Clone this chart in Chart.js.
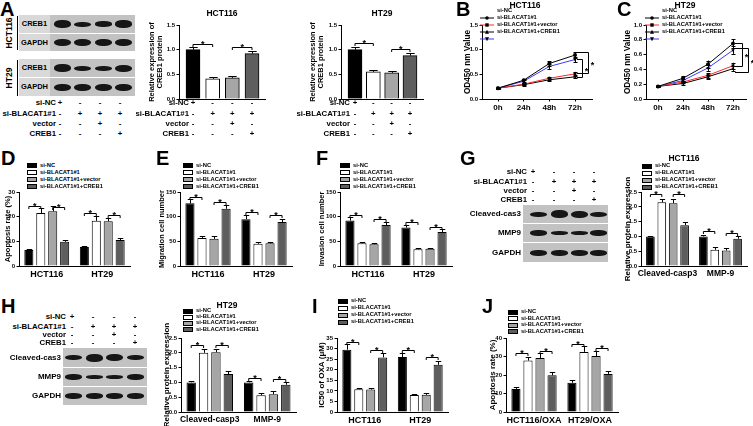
<!DOCTYPE html>
<html>
<head>
<meta charset="utf-8">
<script src="https://cdn.jsdelivr.net/npm/chart.js@4.4.1/dist/chart.umd.min.js"></script>
<style>
html, body { margin: 0; padding: 0; background: #fff; }
#fig { position: relative; width: 753px; height: 426px; overflow: hidden; background: #fff; }
.lbl { position: absolute; white-space: nowrap; line-height: 1; font-family: "Liberation Sans", Arial, sans-serif; font-weight: bold; color: #000; }
canvas { position: absolute; }
.blot { position: absolute; background: #c2c2c2; overflow: hidden; }
.band { position: absolute; background: #161616; border-radius: 45%; filter: blur(0.7px); }
.box { position: absolute; border: 1px solid #000; box-sizing: border-box; }
</style>
</head>
<body>
<div id="fig"></div>
<script>
// ================== Dados ==================

const groups = ["si-NC", "si-BLACAT1#1", "si-BLACAT1#1+vector", "si-BLACAT1#1+CREB1"];
const tableRows = ["si-NC", "si-BLACAT1#1", "vector", "CREB1"];
const tableSigns = [
  ["+", "-", "-", "-"],
  ["-", "+", "+", "+"],
  ["-", "-", "+", "-"],
  ["-", "-", "-", "+"],
];

// A - CREB1 protein
const aLanes = [1, 2, 3, 4];
const aTicks = [0, 0.5, 1.0, 1.5];
const aHctCreb = [1.00, 0.41, 0.43, 0.92];
const aHctCrebErr = [0.06, 0.03, 0.03, 0.06];
const aHctSig = [[0, 1, 1.12], [2, 3, 1.06]];
const aHtCreb = [1.00, 0.55, 0.53, 0.88];
const aHtCrebErr = [0.06, 0.04, 0.04, 0.05];
const aHtSig = [[0, 1, 1.13], [2, 3, 1.01]];

// blots (band thickness per lane)
const blotHctCreb1 = [8, 5, 5.5, 7.5];
const blotHctGapdh = [7, 7, 7, 7];
const blotHtCreb1 = [8, 5, 5, 7];
const blotHtGapdh = [7, 7, 7, 7];
const blotGCas3 = [5, 8, 7, 5];
const blotGMmp9 = [6, 4, 4, 6];
const blotGGapdh = [6, 6, 6, 6];
const blotHCas3 = [5, 8, 7, 5];
const blotHMmp9 = [6, 4, 4, 6];
const blotHGapdh = [6, 6, 6, 6];

// B / C - OD450
const timeIdx = [0, 1, 2, 3];
const timeLabels = ["0h", "24h", "48h", "72h"];
const bTicks = [0, 0.5, 1.0, 1.5];
const bSeries = [
  [0.22, 0.38, 0.72, 0.89],
  [0.22, 0.30, 0.42, 0.51],
  [0.22, 0.29, 0.39, 0.45],
  [0.22, 0.36, 0.66, 0.80],
];
const bErr = [
  [0.01, 0.03, 0.05, 0.06],
  [0.01, 0.02, 0.03, 0.04],
  [0.01, 0.02, 0.03, 0.03],
  [0.01, 0.03, 0.05, 0.05],
];
const bSig = [[3.27, 0.82, 0.45], [3.5, 0.95, 0.53]];
const cTicks = [0, 0.2, 0.4, 0.6, 0.8, 1.0];
const cSeries = [
  [0.17, 0.28, 0.47, 0.75],
  [0.17, 0.23, 0.32, 0.45],
  [0.17, 0.21, 0.30, 0.41],
  [0.17, 0.25, 0.42, 0.66],
];
const cErr = [
  [0.01, 0.03, 0.05, 0.06],
  [0.01, 0.02, 0.03, 0.04],
  [0.01, 0.02, 0.03, 0.03],
  [0.01, 0.02, 0.04, 0.05],
];
const cSig = [[3.36, 0.76, 0.45], [3.6, 0.69, 0.37]];

// D - apoptosis
const cellCats = ["HCT116", "HT29"];
const dTicks = [0, 10, 20, 30];
const dVals = [[6.5, 7.7], [21.5, 18.3], [22.2, 18.1], [9.8, 10.5]];
const dErr = [[0.5, 0.6], [2.0, 1.8], [2.0, 1.3], [0.8, 0.8]];
const dSig = [[0, 0, 1, 24.5], [0, 2, 3, 24.0], [1, 0, 1, 21.5], [1, 2, 3, 20.8]];

// E - migration
const eTicks = [0, 50, 100, 150];
const eVals = [[127, 95], [57, 45], [55, 46], [116, 89]];
const eErr = [[9, 8], [4, 3], [5, 3], [8, 7]];
const eSig = [[0, 0, 1, 140], [0, 2, 3, 130], [1, 0, 1, 110], [1, 2, 3, 103]];

// F - invasion
const fTicks = [0, 50, 100, 150];
const fVals = [[92, 78], [46, 34], [44, 35], [83, 69]];
const fErr = [[8, 6], [3, 2], [3, 2], [7, 5]];
const fSig = [[0, 0, 1, 104], [0, 2, 3, 96], [1, 0, 1, 90], [1, 2, 3, 80]];

// G / H - proteins
const protCats = ["Cleaved-casp3", "MMP-9"];
const protTicks = [0, 0.5, 1.0, 1.5, 2.0, 2.5];
const gVals = [[1.0, 1.0], [2.15, 0.55], [2.12, 0.52], [1.38, 0.92]];
const gErr = [[0.02, 0.04], [0.12, 0.08], [0.15, 0.08], [0.12, 0.08]];
const gSig = [[0, 0, 1, 2.42], [0, 2, 3, 2.42], [1, 0, 1, 1.18], [1, 2, 3, 1.12]];
const hVals = [[1.0, 1.0], [2.0, 0.57], [2.02, 0.6], [1.28, 0.92]];
const hErr = [[0.04, 0.05], [0.12, 0.08], [0.1, 0.1], [0.12, 0.08]];
const hSig = [[0, 0, 1, 2.28], [0, 2, 3, 2.28], [1, 0, 1, 1.15], [1, 2, 3, 1.12]];

// I - IC50
const iTicks = [0, 5, 10, 15, 20, 25, 30, 35];
const iVals = [[29.5, 26.0], [10.8, 8.0], [10.6, 8.1], [25.8, 22.3]];
const iErr = [[2.5, 2.0], [0.7, 0.6], [0.8, 0.7], [2.2, 2.0]];
const iSig = [[0, 0, 1, 33], [0, 2, 3, 29.5], [1, 0, 1, 29.5], [1, 2, 3, 26]];

// J - apoptosis OXA
const oxaCats = ["HCT116/OXA", "HT29/OXA"];
const jTicks = [0, 10, 20, 30, 40];
const jVals = [[12.5, 15.8], [27.8, 32.5], [29.2, 30.3], [19.8, 20.6]];
const jErr = [[1.0, 1.3], [2.2, 3.0], [2.5, 2.8], [1.8, 1.6]];
const jSig = [[0, 0, 1, 32], [0, 2, 3, 33], [1, 0, 1, 37], [1, 2, 3, 34.5]];

// ================== Estilos ==================

const BAR_FILL = ["#000000", "#ffffff", "#a6a6a6", "#5e5e5e"];
const LINE_COLORS = ["#000000", "#ff2a2a", "#000000", "#3a3aff"];
const POINT_STYLES = ["circle", "rect", "triangle", "triangle"];

Chart.defaults.font.family = '"Liberation Sans", Arial, sans-serif';
Chart.defaults.font.weight = "bold";
Chart.defaults.color = "#000";

const fig = document.getElementById("fig");

// ================== Helpers ==================

function addText(x, y, str, opt = {}) {
  const d = document.createElement("div");
  d.className = "lbl";
  d.textContent = str;
  d.style.left = x + "px";
  d.style.top = y + "px";
  d.style.fontSize = (opt.size || 8) + "px";
  if (opt.corner) {
    fig.appendChild(d);
    return d;
  }
  const ax = { left: "0", center: "-50%", right: "-100%" }[opt.align || "left"];
  let tf = `translate(${ax}, -50%)`;
  if (opt.rotate) tf = "translate(-50%, -50%) rotate(-90deg)";
  d.style.transform = tf;
  fig.appendChild(d);
  return d;
}

function addDiv(cls, x, y, w, h, bg) {
  const d = document.createElement("div");
  d.className = cls;
  d.style.position = "absolute";
  d.style.left = x + "px";
  d.style.top = y + "px";
  d.style.width = w + "px";
  d.style.height = h + "px";
  if (bg) d.style.background = bg;
  fig.appendChild(d);
  return d;
}

function place(x, y, w, h) {
  const c = document.createElement("canvas");
  c.width = w;
  c.height = h;
  c.style.left = x + "px";
  c.style.top = y + "px";
  c.style.width = w + "px";
  c.style.height = h + "px";
  fig.appendChild(c);
  return c;
}

function blotRow(x, y, w, h, lanes, thick, bandW) {
  const row = addDiv("blot", x, y, w, h);
  lanes.forEach((lx, i) => {
    const b = document.createElement("div");
    b.className = "band";
    b.style.left = (lx - x - bandW / 2) + "px";
    b.style.top = (h / 2 - thick[i] / 2) + "px";
    b.style.width = bandW + "px";
    b.style.height = thick[i] + "px";
    row.appendChild(b);
  });
}

function signTable(labelRight, rowsY, cols, size) {
  tableRows.forEach((r, k) => {
    addText(labelRight, rowsY[k], r, { align: "right", size });
    tableSigns[k].forEach((s, i) => addText(cols[i], rowsY[k], s, { align: "center", size }));
  });
}

function barLegend(x, y0, step) {
  groups.forEach((g, k) => {
    const y = y0 + k * step;
    addDiv("box", x, y - 2.5, 10, 5, BAR_FILL[k]);
    addText(x + 13, y, g, { size: 5.8 });
  });
}

function markerSvg(k) {
  const c = LINE_COLORS[k];
  let m;
  if (k === 0) m = '<circle cx="7" cy="3" r="1.8" fill="#000"/>';
  else if (k === 1) m = '<rect x="5.3" y="1.3" width="3.4" height="3.4" fill="#000"/>';
  else if (k === 2) m = '<polygon points="7,0.8 9,4.8 5,4.8" fill="#000"/>';
  else m = '<polygon points="7,5.2 9,1.2 5,1.2" fill="#000"/>';
  return `<svg width="14" height="6" xmlns="http://www.w3.org/2000/svg"><line x1="0" y1="3" x2="14" y2="3" stroke="${c}" stroke-width="1"/>${m}</svg>`;
}

function lineLegend(x, y0, step) {
  groups.forEach((g, k) => {
    const y = y0 + k * step;
    const d = addDiv("lbl", x, y - 3, 14, 6);
    d.innerHTML = markerSvg(k);
    addText(x + 17, y, g, { size: 5.8 });
  });
}

function crisp(v) { return Math.round(v) + 0.5; }
function seg(ctx, x1, y1, x2, y2) {
  ctx.beginPath();
  ctx.moveTo(x1, y1);
  ctx.lineTo(x2, y2);
  ctx.stroke();
}

// barras de erro e colchetes de significância
const extras = {
  id: "extras",
  afterDatasetsDraw(chart, args, opt) {
    const ctx = chart.ctx;
    const ys = chart.scales.y;
    ctx.save();
    ctx.strokeStyle = "#000";
    ctx.fillStyle = "#000";
    ctx.lineWidth = 1;
    (opt.errors || []).forEach((errs, d) => {
      const meta = chart.getDatasetMeta(d);
      meta.data.forEach((el, i) => {
        const raw = chart.data.datasets[d].data[i];
        const v = typeof raw === "object" ? raw.y : raw;
        const e = errs[i];
        const x = crisp(el.x);
        if (opt.kind === "line") {
          const y1 = ys.getPixelForValue(v + e), y2 = ys.getPixelForValue(v - e);
          seg(ctx, x, y1, x, y2);
          seg(ctx, x - 2, crisp(y1), x + 2, crisp(y1));
          seg(ctx, x - 2, crisp(y2), x + 2, crisp(y2));
        } else {
          const yt = crisp(ys.getPixelForValue(v + e));
          seg(ctx, x, el.y, x, yt);
          const hw = Math.max(2, el.width * 0.3);
          seg(ctx, x - hw, yt, x + hw, yt);
        }
      });
    });
    ctx.font = 'bold 9px "Liberation Sans", Arial, sans-serif';
    ctx.textAlign = "center";
    ctx.textBaseline = "alphabetic";
    (opt.sig || []).forEach((s) => {
      if (opt.kind === "line") {
        // [x, yTop, yBottom] colchete vertical
        const xs = chart.scales.x;
        const x = crisp(xs.getPixelForValue(s[0]));
        const x0 = xs.getPixelForValue(3) + 2;
        const y1 = crisp(ys.getPixelForValue(s[1])), y2 = crisp(ys.getPixelForValue(s[2]));
        seg(ctx, x0, y1, x, y1);
        seg(ctx, x, y1, x, y2);
        seg(ctx, x, y2, x0, y2);
        ctx.fillText("*", x + 4, (y1 + y2) / 2 + 5);
      } else {
        let xa, xb, h;
        if (s.length === 3) {
          xa = chart.getDatasetMeta(0).data[s[0]].x;
          xb = chart.getDatasetMeta(0).data[s[1]].x;
          h = s[2];
        } else {
          xa = chart.getDatasetMeta(s[1]).data[s[0]].x;
          xb = chart.getDatasetMeta(s[2]).data[s[0]].x;
          h = s[3];
        }
        const y = crisp(ys.getPixelForValue(h));
        seg(ctx, xa, y + 2.5, xa, y);
        seg(ctx, xa, y, xb, y);
        seg(ctx, xb, y, xb, y + 2.5);
        ctx.fillText("*", (xa + xb) / 2, y + 2.5);
      }
    });
    ctx.restore();
  },
};

function frame(o, xH, padR, padT) {
  const lh = o.yTitleSize * 1.1;
  const left = Math.round(o.titleX - lh / 2);
  const top = Math.round(o.top - padT);
  const w = Math.round(o.right - left + padR);
  const h = Math.round(o.bottom - top + xH);
  return { left, top, w, h, yW: o.axisX - left };
}

function yScale(o, f) {
  return {
    type: "linear",
    min: o.yTicks[0],
    max: o.yTicks[o.yTicks.length - 1],
    afterBuildTicks: (s) => { s.ticks = o.yTicks.map((v) => ({ value: v })); },
    afterFit: (s) => { s.width = f.yW; },
    ticks: {
      font: { size: 6, weight: "bold" },
      color: "#000",
      padding: 1.5,
      callback: (v) => (o.yFmt ? Number(v).toFixed(o.yFmt) : String(v)),
    },
    grid: { drawOnChartArea: false, drawTicks: true, tickLength: 2.5, color: "#000", lineWidth: 1 },
    border: { display: true, color: "#000", width: 1 },
    title: {
      display: true,
      text: o.yTitle,
      color: "#000",
      padding: 0,
      font: { size: o.yTitleSize, weight: "bold", lineHeight: 1.1 },
    },
  };
}

function baseOptions(padR, padT, pluginOpts, scales) {
  return {
    responsive: false,
    animation: false,
    devicePixelRatio: 1,
    layout: { padding: { top: padT, right: padR, left: 0, bottom: 0 } },
    plugins: { legend: { display: false }, tooltip: { enabled: false }, extras: pluginOpts },
    scales,
  };
}

// barras simples (painel A)
function singleBars(o) {
  const xH = 6, padR = 2, padT = 8;
  const f = frame(o, xH, padR, padT);
  const c = place(f.left, f.top, f.w, f.h);
  const xMin = 1 - (o.firstCenter - o.axisX) / o.spacing;
  const xMax = xMin + (o.right - o.axisX) / o.spacing;
  new Chart(c, {
    type: "bar",
    data: {
      datasets: [{
        data: o.values.map((v, i) => ({ x: aLanes[i], y: v })),
        backgroundColor: BAR_FILL,
        borderColor: "#000",
        borderWidth: 1,
        barThickness: o.barW,
      }],
    },
    options: baseOptions(padR, padT, { errors: [o.errors], sig: o.sig }, {
      x: {
        type: "linear", min: xMin, max: xMax, offset: false,
        afterFit: (s) => { s.height = xH; },
        ticks: { display: false },
        grid: { display: false },
        border: { display: true, color: "#000", width: 1 },
      },
      y: yScale(o, f),
    }),
    plugins: [extras],
  });
  return aLanes.map((l) => o.firstCenter + (l - 1) * o.spacing);
}

// barras agrupadas (D-J)
function groupedBars(o) {
  const xH = o.xH || 15, padR = 2, padT = o.padT || 6;
  const f = frame(o, xH, padR, padT);
  const c = place(f.left, f.top, f.w, f.h);
  new Chart(c, {
    type: "bar",
    data: {
      labels: o.cats,
      datasets: o.values.map((vals, k) => ({
        label: groups[k],
        data: vals,
        backgroundColor: BAR_FILL[k],
        borderColor: "#000",
        borderWidth: 1,
        categoryPercentage: 0.86,
        barPercentage: 0.76,
      })),
    },
    options: baseOptions(padR, padT, { errors: o.errors, sig: o.sig }, {
      x: {
        type: "category",
        offset: true,
        afterFit: (s) => { s.height = xH; },
        ticks: { font: { size: o.catSize || 9, weight: "bold" }, color: "#000", padding: 1, maxRotation: 0, autoSkip: false },
        grid: { display: false, drawTicks: true, tickLength: 2 },
        border: { display: true, color: "#000", width: 1 },
      },
      y: yScale(o, f),
    }),
    plugins: [extras],
  });
  barLegend(o.legendX, o.legendY, o.legendStep);
}

// curvas (B, C)
function lineChart(o) {
  const xH = 14, padT = 6;
  const padR = o.padR;
  const f = frame(o, xH, padR, padT);
  const c = place(f.left, f.top, f.w, f.h);
  const xMin = 0 - (o.firstCenter - o.axisX) / o.spacing;
  const xMax = xMin + (o.right - o.axisX) / o.spacing;
  new Chart(c, {
    type: "line",
    data: {
      datasets: o.series.map((s, k) => ({
        label: groups[k],
        data: s.map((v, i) => ({ x: timeIdx[i], y: v })),
        borderColor: LINE_COLORS[k],
        borderWidth: 1,
        pointStyle: POINT_STYLES[k],
        pointRotation: k === 3 ? 180 : 0,
        pointRadius: 2,
        pointBackgroundColor: "#000",
        pointBorderColor: "#000",
        pointBorderWidth: 0,
        tension: 0,
      })),
    },
    options: baseOptions(padR, padT, { kind: "line", errors: o.errors, sig: o.sig }, {
      x: {
        type: "linear", min: xMin, max: xMax, offset: false,
        afterBuildTicks: (s) => { s.ticks = timeIdx.map((v) => ({ value: v })); },
        afterFit: (s) => { s.height = xH; },
        ticks: { font: { size: 8, weight: "bold" }, color: "#000", padding: 1, maxRotation: 0, autoSkip: false,
          callback: (v) => timeLabels[timeIdx.indexOf(v)] },
        grid: { drawOnChartArea: false, drawTicks: true, tickLength: 2.5, color: "#000" },
        border: { display: true, color: "#000", width: 1 },
      },
      y: yScale(o, f),
    }),
    plugins: [extras],
  });
  lineLegend(o.legendX, o.legendY, o.legendStep);
}

// ================== Painel A ==================

addText(0, -1, "A", { corner: true, size: 20 });
addText(9, 33, "HCT116", { rotate: true, size: 8.5 });
addText(9, 78, "HT29", { rotate: true, size: 8.5 });
addDiv("", 17, 16, 1, 34, "#000");
addDiv("", 17, 60, 1, 36, "#000");

const aBlotLanes = [62, 82, 103, 123];
[[15, 18, "CREB1", blotHctCreb1], [34, 17, "GAPDH", blotHctGapdh],
 [59, 18, "CREB1", blotHtCreb1], [78, 18, "GAPDH", blotHtGapdh]].forEach(([y, h, name, th]) => {
  addDiv("blot", 19, y, 31, h, "#d9d9d9");
  addText(34.5, y + h / 2, name, { align: "center", size: 7.5 });
  blotRow(50, y, 85, h, aBlotLanes, th, 17);
});
signTable(56, [103, 114, 124, 134], [60, 80, 100, 120], 7.8);

const aHctCols = singleBars({
  axisX: 179, right: 265, top: 25, bottom: 99, yTicks: aTicks, yFmt: 1,
  yTitle: ["Relative expression of", "CREB1 protein"], yTitleSize: 7.5, titleX: 152,
  firstCenter: 193, spacing: 19.67, barW: 14, values: aHctCreb, errors: aHctCrebErr, sig: aHctSig,
});
addText(222, 13, "HCT116", { align: "center", size: 8.5 });
signTable(189, [103, 114, 124, 134], aHctCols, 7.8);

const aHtCols = singleBars({
  axisX: 341, right: 423, top: 25, bottom: 99, yTicks: aTicks, yFmt: 1,
  yTitle: ["Relative expression of", "CREB1 protein"], yTitleSize: 7.5, titleX: 313,
  firstCenter: 355, spacing: 18.33, barW: 14, values: aHtCreb, errors: aHtCrebErr, sig: aHtSig,
});
addText(382, 13, "HT29", { align: "center", size: 8.5 });
signTable(350, [103, 114, 124, 134], aHtCols, 7.8);

// ================== Painéis B e C ==================

addText(456, -1, "B", { corner: true, size: 20 });
addText(525, 5, "HCT116", { align: "center", size: 8.5 });
lineChart({
  axisX: 482, right: 592, top: 25, bottom: 99, yTicks: bTicks, yFmt: 1,
  yTitle: "OD450 nm Value", yTitleSize: 8.2, titleX: 468, firstCenter: 498, spacing: 25.67,
  padR: 10, series: bSeries, errors: bErr, sig: bSig, legendX: 480, legendY: 11, legendStep: 7,
});

addText(617, -1, "C", { corner: true, size: 20 });
addText(685, 5, "HT29", { align: "center", size: 8.5 });
lineChart({
  axisX: 646, right: 746, top: 25, bottom: 99, yTicks: cTicks, yFmt: 1,
  yTitle: "OD450 nm Value", yTitleSize: 8.2, titleX: 628, firstCenter: 658, spacing: 25,
  padR: 7, series: cSeries, errors: cErr, sig: cSig, legendX: 645, legendY: 11, legendStep: 7,
});

// ================== Painéis D, E, F ==================

addText(1, 148, "D", { corner: true, size: 20 });
groupedBars({
  axisX: 19, right: 130, top: 192, bottom: 266, yTicks: dTicks,
  yTitle: "Apoptosis rate (%)", yTitleSize: 7.5, titleX: 8, cats: cellCats,
  values: dVals, errors: dErr, sig: dSig, legendX: 27, legendY: 165.5, legendStep: 7,
});

addText(156, 148, "E", { corner: true, size: 20 });
groupedBars({
  axisX: 180, right: 292, top: 192, bottom: 266, yTicks: eTicks,
  yTitle: "Migration cell number", yTitleSize: 7.5, titleX: 162, cats: cellCats,
  values: eVals, errors: eErr, sig: eSig, legendX: 183, legendY: 165.5, legendStep: 7,
});

addText(316, 148, "F", { corner: true, size: 20 });
groupedBars({
  axisX: 340, right: 452, top: 192, bottom: 266, yTicks: fTicks,
  yTitle: "Invasion cell number", yTitleSize: 7.5, titleX: 322, cats: cellCats,
  values: fVals, errors: fErr, sig: fSig, legendX: 340, legendY: 165.5, legendStep: 7,
});

// ================== Painel G ==================

addText(460, 148, "G", { corner: true, size: 20 });
signTable(527, [172, 181.5, 191, 200], [533, 554, 574, 594], 7.8);
const gLanes = [538, 559, 579, 598];
[[205, 18, "Cleaved-cas3", blotGCas3], [224, 18, "MMP9", blotGMmp9], [243, 19, "GAPDH", blotGGapdh]]
  .forEach(([y, h, name, th]) => {
    addText(521, y + h / 2, name, { align: "right", size: 8 });
    blotRow(523, y, 85, h, gLanes, th, 17);
  });
addText(684, 158, "HCT116", { align: "center", size: 8.5 });
groupedBars({
  axisX: 641, right: 747, top: 192, bottom: 266, yTicks: protTicks, yFmt: 1,
  yTitle: "Relative protein expression", yTitleSize: 8, titleX: 627, cats: protCats, catSize: 8.5,
  padT: 22, xH: 26,
  values: gVals, errors: gErr, sig: gSig, legendX: 642, legendY: 166, legendStep: 7,
});

// ================== Painel H ==================

addText(1, 296, "H", { corner: true, size: 20 });
signTable(66, [317, 327, 335, 343], [72, 93, 114, 135], 7.8);
const hLanes = [73, 94, 114, 135];
[[348, 19, "Cleaved-cas3", blotHCas3], [368, 18, "MMP9", blotHMmp9], [387, 18, "GAPDH", blotHGapdh]]
  .forEach(([y, h, name, th]) => {
    addText(61, y + h / 2, name, { align: "right", size: 8 });
    blotRow(63, y, 84, h, hLanes, th, 17);
  });
addText(227, 305, "HT29", { align: "center", size: 8.5 });
groupedBars({
  axisX: 181, right: 296, top: 338, bottom: 412, yTicks: protTicks, yFmt: 1,
  yTitle: "Relative protein expression", yTitleSize: 8, titleX: 166, cats: protCats, catSize: 8.5,
  padT: 22, xH: 26,
  values: hVals, errors: hErr, sig: hSig, legendX: 183, legendY: 311, legendStep: 6.2,
});

// ================== Painéis I e J ==================

addText(312, 296, "I", { corner: true, size: 20 });
groupedBars({
  axisX: 337, right: 448, top: 338, bottom: 412, yTicks: iTicks,
  yTitle: "IC50 of OXA (\u03bcM)", yTitleSize: 8, titleX: 321, cats: cellCats,
  values: iVals, errors: iErr, sig: iSig, legendX: 338, legendY: 301, legendStep: 7,
});

addText(482, 296, "J", { corner: true, size: 20 });
groupedBars({
  axisX: 506, right: 618, top: 338, bottom: 412, yTicks: jTicks,
  yTitle: "Apoptosis rate (%)", yTitleSize: 8, titleX: 492, cats: oxaCats,
  values: jVals, errors: jErr, sig: jSig, legendX: 508, legendY: 312, legendStep: 6.5,
});
</script>
</body>
</html>
